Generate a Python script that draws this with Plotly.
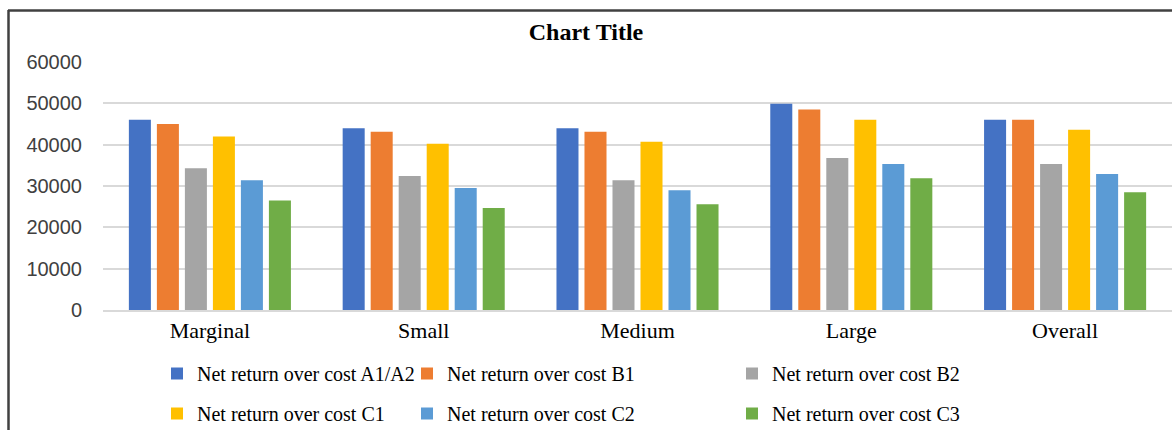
import plotly.graph_objects as go

categories = ["Marginal", "Small", "Medium", "Large", "Overall"]
series_names = [
    "Net return over cost A1/A2",
    "Net return over cost B1",
    "Net return over cost B2",
    "Net return over cost C1",
    "Net return over cost C2",
    "Net return over cost C3",
]
a1a2 = [46000, 44000, 44000, 49900, 46000]
b1 = [45000, 43100, 43100, 48500, 46000]
b2 = [34300, 32400, 31400, 36800, 35300]
c1 = [42000, 40200, 40700, 46000, 43600]
c2 = [31400, 29500, 29000, 35300, 32900]
c3 = [26500, 24700, 25600, 31900, 28500]
series_values = [a1a2, b1, b2, c1, c2, c3]
colors = ["#4472C4", "#ED7D31", "#A5A5A5", "#FFC000", "#5B9BD5", "#70AD47"]
legend_of = ["legend", "legend2", "legend3", "legend", "legend2", "legend3"]
y_ticks = [0, 10000, 20000, 30000, 40000, 50000, 60000]

W, H = 1172, 430
ML, MR, MT, MB = 103, 0, 62, 120
PW, PH = W - ML - MR, H - MT - MB


def px_x(px):
    return (px - ML) / PW


def px_y(py):
    return (H - MB - py) / PH


fig = go.Figure()
for name, vals, col, lg in zip(series_names, series_values, colors, legend_of):
    fig.add_trace(go.Bar(
        x=categories, y=vals, name=name, marker_color=col,
        marker_line_width=0, legend=lg, legendgroup=name,
    ))

legend_common = dict(
    orientation="v", xanchor="left", yanchor="top",
    font=dict(family="Liberation Serif", size=20, color="#000000"),
    bgcolor="rgba(0,0,0,0)", tracegroupgap=11, itemclick=False,
)
leg_top = px_y(354)

fig.update_layout(
    width=W, height=H,
    margin=dict(l=ML, r=MR, t=MT, b=MB, pad=0, autoexpand=False),
    paper_bgcolor="#FFFFFF", plot_bgcolor="#FFFFFF",
    barmode="group", bargap=0.214, bargroupgap=0.214,
    title=dict(
        text="<b>Chart Title</b>", x=0.5, xanchor="center", xref="container",
        y=1 - 32 / H, yanchor="middle", yref="container",
        font=dict(family="Liberation Serif", size=24, color="#000000"),
    ),
    xaxis=dict(
        showgrid=False, showline=True, linecolor="#D9D9D9", linewidth=1.5,
        ticks="", tickfont=dict(family="Liberation Serif", size=22, color="#000000"),
    ),
    yaxis=dict(
        range=[0, 60000], tickvals=y_ticks, ticktext=[str(v) for v in y_ticks],
        showgrid=True, gridcolor="#D9D9D9", gridwidth=1.5,
        zeroline=False, showline=False, ticks="",
        ticklabelstandoff=20,
        tickfont=dict(family="Liberation Sans", size=20, color="#404040"),
    ),
    legend=dict(x=px_x(157), y=leg_top, **legend_common),
    legend2=dict(x=px_x(407), y=leg_top, **legend_common),
    legend3=dict(x=px_x(732), y=leg_top, **legend_common),
    shapes=[
        dict(type="line", xref="paper", yref="paper",
             x0=px_x(8), x1=px_x(W + 5), y0=px_y(10.5), y1=px_y(10.5),
             line=dict(color="#404040", width=2.5)),
        dict(type="line", xref="paper", yref="paper",
             x0=px_x(8.5), x1=px_x(8.5), y0=px_y(10), y1=px_y(H + 5),
             line=dict(color="#404040", width=2.5)),
    ],
)

fig.write_html("out.html")
